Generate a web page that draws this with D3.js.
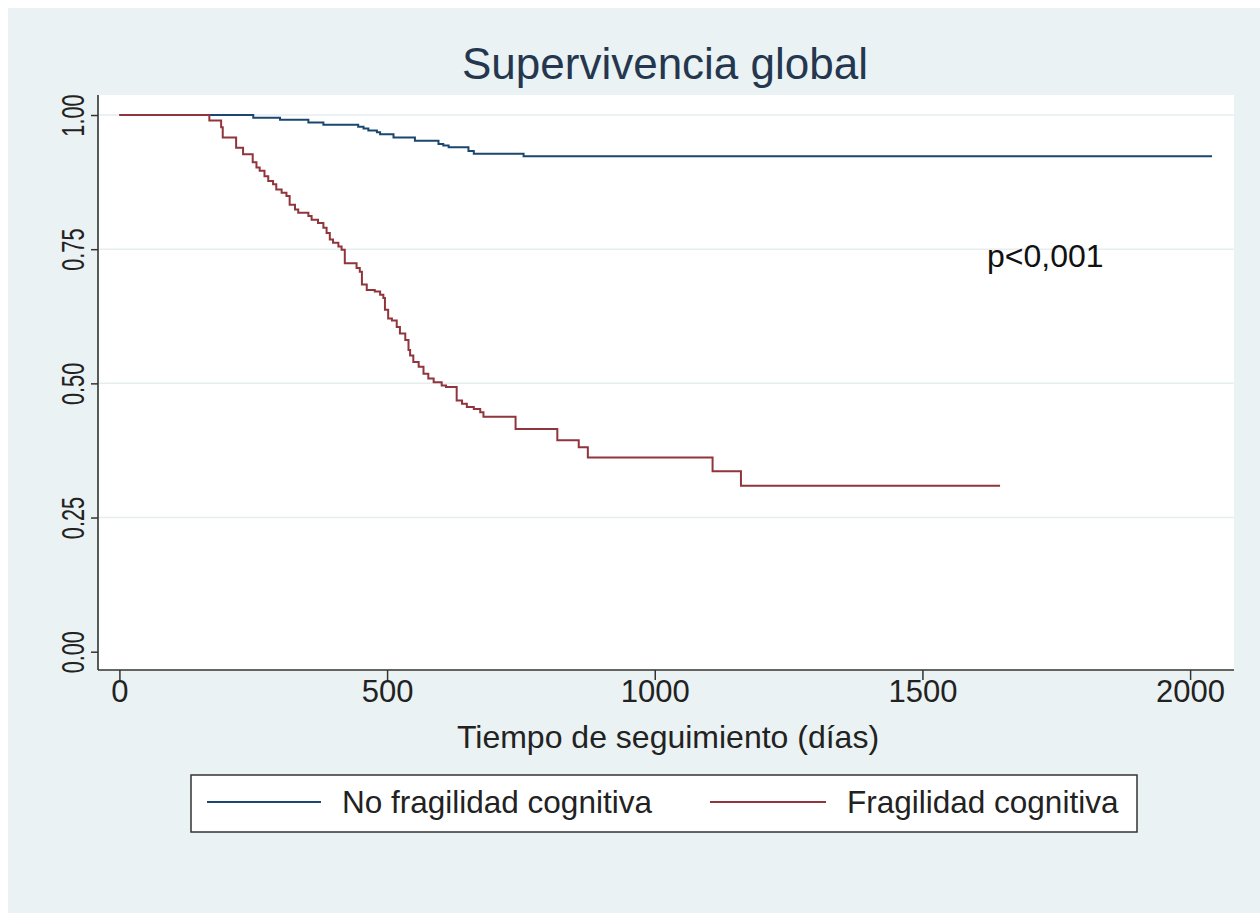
<!DOCTYPE html>
<html>
<head>
<meta charset="utf-8">
<script src="https://cdn.jsdelivr.net/npm/d3@7"></script>
<style>
  html, body { margin: 0; padding: 0; background: #ffffff; }
  svg { display: block; }
  text { font-family: "Liberation Sans", Arial, Helvetica, sans-serif; }
</style>
</head>
<body>
<svg id="chart" width="1260" height="913"></svg>
<script>
// ---------------- DATA ----------------
const chartTitle = "Supervivencia global";
const xAxisTitle = "Tiempo de seguimiento (días)";
const seriesNames = ["No fragilidad cognitiva", "Fragilidad cognitiva"];
const annotation = "p<0,001";

const xTicks = [0, 500, 1000, 1500, 2000];
const xTickLabels = ["0", "500", "1000", "1500", "2000"];
const yTicks = [0, 0.25, 0.5, 0.75, 1.0];
const yTickLabels = ["0.00", "0.25", "0.50", "0.75", "1.00"];

// No fragilidad cognitiva (Kaplan-Meier steps)
const blueTime = [0, 250, 300, 353, 381, 446, 456, 465, 481, 487, 512, 552, 596, 605, 615, 652, 662, 755, 2041];
const blueSurv = [1.000, 0.995, 0.991, 0.986, 0.982, 0.978, 0.975, 0.971, 0.968, 0.964, 0.958, 0.952, 0.946, 0.943, 0.940, 0.933, 0.928, 0.923, 0.923];

// Fragilidad cognitiva (Kaplan-Meier steps)
const redTime = [0, 168, 190, 193, 218, 231, 249, 256, 262, 271, 278, 287, 293, 303, 312, 318, 328, 334, 353, 359,
  371, 381, 387, 393, 399, 409, 415, 421, 443, 449, 453, 462, 477, 487, 493, 496, 502, 509, 518, 524,
  534, 540, 543, 549, 559, 568, 577, 587, 602, 610, 630, 640, 649, 662, 674, 680, 740, 818, 858, 875,
  1108, 1161, 1645];
const redSurv = [1.000, 0.990, 0.977, 0.958, 0.939, 0.927, 0.912, 0.902, 0.896, 0.886, 0.877, 0.871, 0.861, 0.855, 0.849, 0.833, 0.824, 0.818, 0.812, 0.805,
  0.799, 0.790, 0.780, 0.768, 0.762, 0.755, 0.749, 0.724, 0.715, 0.708, 0.684, 0.674, 0.671, 0.665, 0.659, 0.637, 0.621, 0.617, 0.605, 0.593,
  0.581, 0.562, 0.552, 0.540, 0.531, 0.518, 0.509, 0.502, 0.496, 0.493, 0.468, 0.462, 0.456, 0.452, 0.446, 0.438, 0.415, 0.394, 0.381, 0.362,
  0.336, 0.309, 0.309];

const colors = ["#1a476f", "#90353b"];

// ---------------- LAYOUT ----------------
const svg = d3.select("#chart");
const plot = { left: 98, right: 1234, top: 95, bottom: 670 };

// background
svg.append("rect").attr("x", 8).attr("y", 8).attr("width", 1252).attr("height", 905).attr("fill", "#eaf2f3");
svg.append("rect").attr("x", plot.left).attr("y", plot.top)
  .attr("width", plot.right - plot.left).attr("height", plot.bottom - plot.top).attr("fill", "#ffffff");

const x = d3.scaleLinear().domain([-40, 2082]).range([plot.left, plot.right]);
const y = d3.scaleLinear().domain([-0.0341, 1.0373]).range([plot.bottom, plot.top]);

// gridlines
svg.append("g").selectAll("line").data(yTicks.filter(d => d > 0)).join("line")
  .attr("x1", plot.left).attr("x2", plot.right)
  .attr("y1", d => y(d)).attr("y2", d => y(d))
  .attr("stroke", "#e6eef0").attr("stroke-width", 1.5);

// title
svg.append("text").attr("x", 665).attr("y", 79).attr("text-anchor", "middle")
  .attr("font-size", 44).attr("fill", "#24374f").text(chartTitle);

// x axis
const xAxis = d3.axisBottom(x).tickValues(xTicks).tickSize(10).tickSizeOuter(0).tickPadding(5)
  .tickFormat((d, i) => xTickLabels[i]);
const gx = svg.append("g").attr("transform", `translate(0,${plot.bottom})`).call(xAxis);
gx.select(".domain").remove();
gx.selectAll(".tick line").attr("stroke", "#333").attr("stroke-width", 1.5);
gx.selectAll(".tick text").attr("font-size", 31).attr("fill", "#222")
  .attr("font-family", '"Liberation Sans", Arial, sans-serif').attr("dy", "0.62em").attr("y", 13);
svg.append("line").attr("x1", plot.left).attr("x2", plot.right)
  .attr("y1", plot.bottom).attr("y2", plot.bottom).attr("stroke", "#333").attr("stroke-width", 1.6);

// y axis
const yAxis = d3.axisLeft(y).tickValues(yTicks).tickSize(7).tickSizeOuter(0).tickFormat((d, i) => yTickLabels[i]);
const gy = svg.append("g").attr("transform", `translate(${plot.left},0)`).call(yAxis);
gy.select(".domain").remove();
gy.selectAll(".tick line").attr("stroke", "#333").attr("stroke-width", 1.5);
gy.selectAll(".tick text").remove();
gy.selectAll(".tick").append("text")
  .attr("transform", "translate(-14,0) rotate(-90) scale(0.68,1)")
  .attr("text-anchor", "middle").attr("font-size", 32).attr("fill", "#222")
  .attr("font-family", '"Liberation Sans", Arial, sans-serif')
  .text((d, i) => yTickLabels[i]);
svg.append("line").attr("x1", plot.left).attr("x2", plot.left)
  .attr("y1", plot.top).attr("y2", plot.bottom).attr("stroke", "#333").attr("stroke-width", 1.6);

// x axis title
svg.append("text").attr("x", 668).attr("y", 748).attr("text-anchor", "middle")
  .attr("font-size", 32).attr("fill", "#222").text(xAxisTitle);

// curves
const line = d3.line().x(d => x(d[0])).y(d => y(d[1])).curve(d3.curveStepAfter);
const blueData = blueTime.map((t, i) => [t, blueSurv[i]]);
const redData = redTime.map((t, i) => [t, redSurv[i]]);
svg.append("path").datum(blueData).attr("d", line).attr("fill", "none")
  .attr("stroke", colors[0]).attr("stroke-width", 2);
svg.append("path").datum(redData).attr("d", line).attr("fill", "none")
  .attr("stroke", colors[1]).attr("stroke-width", 2);

// annotation
svg.append("text").attr("x", 987).attr("y", 267).attr("font-size", 32).attr("fill", "#111").text(annotation);

// legend
const lg = svg.append("g");
lg.append("rect").attr("x", 191).attr("y", 775).attr("width", 946).attr("height", 57)
  .attr("fill", "#ffffff").attr("stroke", "#333").attr("stroke-width", 1.5);
const legendItems = [
  { name: seriesNames[0], color: colors[0], x1: 207, x2: 321, tx: 342 },
  { name: seriesNames[1], color: colors[1], x1: 710, x2: 826, tx: 847 }
];
legendItems.forEach(it => {
  lg.append("line").attr("x1", it.x1).attr("x2", it.x2).attr("y1", 802).attr("y2", 802)
    .attr("stroke", it.color).attr("stroke-width", 2);
  lg.append("text").attr("x", it.tx).attr("y", 813).attr("font-size", 31.5).attr("fill", "#222").text(it.name);
});
</script>
</body>
</html>
